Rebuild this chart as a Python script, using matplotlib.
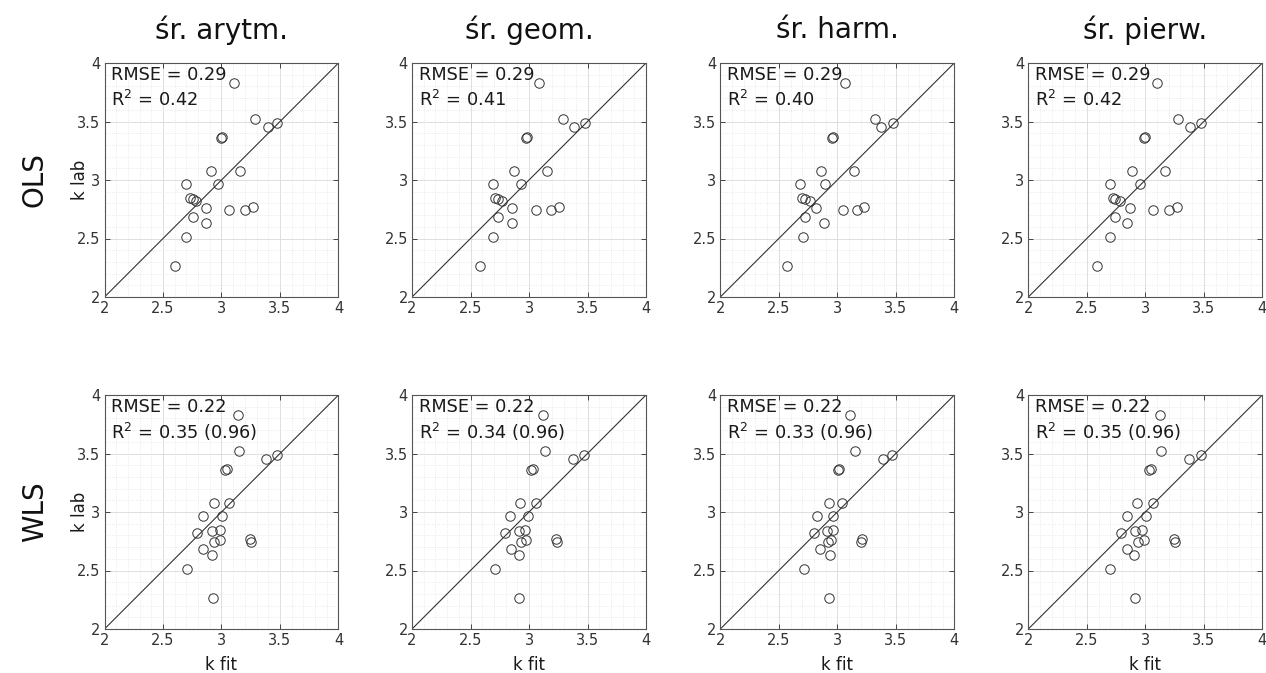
import matplotlib
matplotlib.use("Agg")
import matplotlib.pyplot as plt
from matplotlib.ticker import MultipleLocator

methods = ["śr. arytm.", "śr. geom.", "śr. harm.", "śr. pierw."]
rows = ["OLS", "WLS"]

# measured k (same for every panel)
k_lab = [3.83, 3.52, 3.45, 3.49, 3.355, 3.365, 3.077, 3.076, 2.968, 2.963, 2.849,
         2.835, 2.822, 2.762, 2.744, 2.743, 2.772, 2.685, 2.633, 2.516, 2.261]

# fitted k, OLS
ols_arytm = [3.111, 3.284, 3.398, 3.477, 2.994, 3.006, 2.909, 3.162, 2.693, 2.966, 2.730,
             2.753, 2.781, 2.869, 3.063, 3.205, 3.270, 2.753, 2.864, 2.693, 2.599]
ols_geom = [3.085, 3.290, 3.381, 3.477, 2.974, 2.983, 2.875, 3.156, 2.690, 2.932, 2.713,
            2.733, 2.773, 2.852, 3.057, 3.190, 3.253, 2.736, 2.855, 2.696, 2.577]
ols_harm = [3.062, 3.321, 3.375, 3.474, 2.957, 2.963, 2.861, 3.145, 2.679, 2.892, 2.696,
            2.722, 2.764, 2.818, 3.051, 3.168, 3.224, 2.727, 2.884, 2.707, 2.571]
ols_pierw = [3.102, 3.281, 3.384, 3.480, 2.986, 2.997, 2.889, 3.165, 2.699, 2.957, 2.722,
             2.739, 2.784, 2.869, 3.062, 3.205, 3.267, 2.744, 2.844, 2.696, 2.585]

# fitted k, WLS
wls_arytm = [3.139, 3.151, 3.378, 3.474, 3.034, 3.048, 2.935, 3.068, 2.844, 3.003, 2.983,
             2.920, 2.790, 2.986, 2.938, 3.250, 3.241, 2.844, 2.923, 2.702, 2.926]
wls_geom = [3.116, 3.139, 3.378, 3.472, 3.020, 3.034, 2.926, 3.057, 2.841, 2.989, 2.969,
            2.912, 2.798, 2.977, 2.932, 3.239, 3.230, 2.844, 2.912, 2.707, 2.918]
wls_harm = [3.108, 3.148, 3.392, 3.469, 3.003, 3.017, 2.929, 3.043, 2.830, 2.963, 2.963,
            2.912, 2.804, 2.949, 2.923, 3.202, 3.207, 2.849, 2.935, 2.719, 2.929]
wls_pierw = [3.128, 3.136, 3.375, 3.474, 3.031, 3.045, 2.926, 3.065, 2.847, 3.003, 2.972,
             2.912, 2.795, 2.989, 2.938, 3.250, 3.244, 2.844, 2.901, 2.702, 2.912]

rmse_ols = ["0.29", "0.29", "0.29", "0.29"]
r2_ols = ["0.42", "0.41", "0.40", "0.42"]
rmse_wls = ["0.22", "0.22", "0.22", "0.22"]
r2_wls = ["0.35 (0.96)", "0.34 (0.96)", "0.33 (0.96)", "0.35 (0.96)"]

ticks = [2, 2.5, 3, 3.5, 4]
tick_labels = ["2", "2.5", "3", "3.5", "4"]

fits = [[ols_arytm, ols_geom, ols_harm, ols_pierw],
        [wls_arytm, wls_geom, wls_harm, wls_pierw]]
rmse = [rmse_ols, rmse_wls]
r2 = [r2_ols, r2_wls]

W, H = 1266, 673
fig = plt.figure(figsize=(W / 100, H / 100), dpi=100)
plt.rcParams["mathtext.fontset"] = "dejavusans"

col_left = [104.5, 412.0, 720.3, 1028.3]
row_bottom = [297.0, 629.0]
size = 234.0
txt = "#1a1a1a"

for r in range(2):
    for c in range(4):
        ax = fig.add_axes([col_left[c] / W, 1 - row_bottom[r] / H, size / W, size / H])
        ax.plot([2, 4], [2, 4], color="#333333", lw=0.8, zorder=2)
        ax.plot(fits[r][c], k_lab, "o", ms=6.8, mfc="none", mec="#333333", mew=0.7, zorder=3)
        ax.set_xlim(2, 4)
        ax.set_ylim(2, 4)
        ax.xaxis.set_minor_locator(MultipleLocator(0.1))
        ax.yaxis.set_minor_locator(MultipleLocator(0.1))
        ax.set_xticks(ticks)
        ax.set_xticklabels(tick_labels)
        ax.set_yticks(ticks)
        ax.set_yticklabels(tick_labels)
        ax.grid(which="major", color="#dedede", lw=0.7, ls="-")
        ax.grid(which="minor", color="#e4e4e4", lw=0.6, ls=":")
        ax.set_axisbelow(True)
        ax.tick_params(which="both", direction="in", top=True, right=True,
                       colors="#444444", labelcolor="#333333", labelsize=10.5)
        ax.tick_params(which="major", length=3.5, width=0.7, pad=3)
        ax.tick_params(which="minor", length=0)
        for s in ax.spines.values():
            s.set_color("#555555")
            s.set_linewidth(0.8)

        ax.text(0.028, 0.949, "RMSE = " + rmse[r][c], transform=ax.transAxes,
                fontsize=12.8, color=txt, va="center", ha="left")
        ax.text(0.028, 0.84, r"R$^2$ = " + r2[r][c], transform=ax.transAxes,
                fontsize=12.8, color=txt, va="center", ha="left")

        if c == 0:
            ax.set_ylabel("k lab", fontsize=12, color=txt)
            ax.yaxis.set_label_coords(-0.065, 0.5)
        if r == 1:
            ax.set_xlabel("k fit", fontsize=12, color=txt)
            ax.xaxis.set_label_coords(0.5, -0.115)

for c in range(4):
    fig.text((col_left[c] + size / 2) / W, 1 - 30 / H, methods[c], fontsize=20,
             ha="center", va="center", color="#111111")

fig.text(35 / W, 1 - 180 / H, rows[0], fontsize=20, rotation=90,
         ha="center", va="center", color="#111111")
fig.text(35 / W, 1 - 512 / H, rows[1], fontsize=20, rotation=90,
         ha="center", va="center", color="#111111")

fig.savefig("out.png", dpi=100)
